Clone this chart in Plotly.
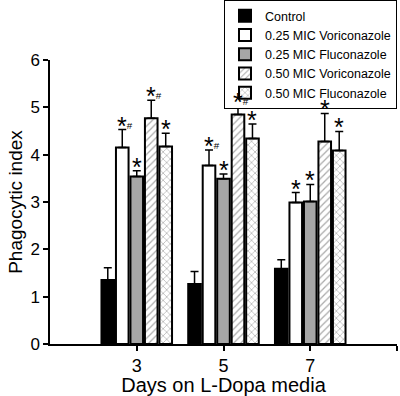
import plotly.graph_objects as go

days = [3, 5, 7]
series_names = ["Control", "0.25 MIC Voriconazole", "0.25 MIC Fluconazole",
                "0.50 MIC Voriconazole", "0.50 MIC Fluconazole"]
control = [1.35, 1.27, 1.59]
vori_025 = [4.15, 3.77, 2.99]
fluc_025 = [3.54, 3.49, 3.01]
vori_050 = [4.77, 4.85, 4.28]
fluc_050 = [4.17, 4.34, 4.09]
control_err = [0.26, 0.26, 0.19]
vori_025_err = [0.38, 0.33, 0.21]
fluc_025_err = [0.12, 0.10, 0.36]
vori_050_err = [0.38, 0.18, 0.59]
fluc_050_err = [0.28, 0.31, 0.40]
marks = [
    ["", "", ""],
    ["*#", "*#", "*"],
    ["*", "*", "*"],
    ["*#", "*#", "*"],
    ["*", "*", "*"],
]

values = [control, vori_025, fluc_025, vori_050, fluc_050]
errors = [control_err, vori_025_err, fluc_025_err, vori_050_err, fluc_050_err]
fills = ["black", "white", "#a6a6a6", "white", "white"]
patterns = ["", "", "", "/", "x"]

FONT = "Liberation Sans, Arial, sans-serif"
bargap = 0.165
bargroupgap = 0.13

fig = go.Figure()
for name, v, e, fc, pat in zip(series_names, values, errors, fills, patterns):
    fig.add_trace(go.Bar(
        x=days, y=v, name=name,
        marker=dict(color=fc, line=dict(color="black", width=2),
                    pattern=dict(shape=pat, fgcolor="#555", size=5, solidity=0.25)),
        error_y=dict(type="data", array=e, arrayminus=[0] * len(e), symmetric=False,
                     color="black", thickness=1.5, width=4),
    ))

# annotations above error bars
spacing = min(days[i + 1] - days[i] for i in range(len(days) - 1))
slot = spacing * (1 - bargap) / len(series_names)
for si, (v, e, mk) in enumerate(zip(values, errors, marks)):
    for di, d in enumerate(days):
        if not mk[di]:
            continue
        xc = d + (si - (len(series_names) - 1) / 2) * slot
        if mk[di] == "*":
            txt, xa, xs = "*", "center", 0
        else:
            txt, xa, xs = "*<span style='font-size:14px'><sup>#</sup></span>", "left", -7
        fig.add_annotation(x=xc, y=v[di] + e[di], text=txt, showarrow=False,
                           xanchor=xa, xshift=xs,
                           yanchor="bottom", yshift=-12,
                           font=dict(size=25, family=FONT, color="black"))

fig.update_layout(
    width=400, height=396,
    margin=dict(l=50, r=3, t=60, b=52, autoexpand=False),
    paper_bgcolor="white", plot_bgcolor="white",
    barmode="group", bargap=bargap, bargroupgap=bargroupgap,
    font=dict(family=FONT, color="black"),
    showlegend=True,
    legend=dict(xref="container", yref="container",
                x=0.56, y=1.012, xanchor="left", yanchor="top",
                bordercolor="black", borderwidth=1, bgcolor="white",
                font=dict(size=12.5, family=FONT), tracegroupgap=0,
                itemwidth=30),
    xaxis=dict(range=[1, 9], tickvals=[3, 5, 7, 9], ticktext=["3", "5", "7", ""],
               showline=True, linecolor="black", linewidth=1.5,
               ticks="outside", ticklen=5, tickwidth=1.5, tickcolor="black",
               showgrid=False, zeroline=False,
               tickfont=dict(size=18, family=FONT),
               title=dict(text="Days on L-Dopa media", font=dict(size=20, family=FONT), standoff=2)),
    yaxis=dict(range=[0, 6], tickvals=[0, 1, 2, 3, 4, 5, 6],
               showline=True, linecolor="black", linewidth=1.5,
               ticks="outside", ticklen=5, tickwidth=1.5, tickcolor="black",
               showgrid=False, zeroline=False,
               tickfont=dict(size=17, family=FONT),
               title=dict(text="Phagocytic index", font=dict(size=19, family=FONT), standoff=3)),
)

fig.write_html("out.html", config={"displayModeBar": False},
               post_script="document.body.style.margin='0';")
